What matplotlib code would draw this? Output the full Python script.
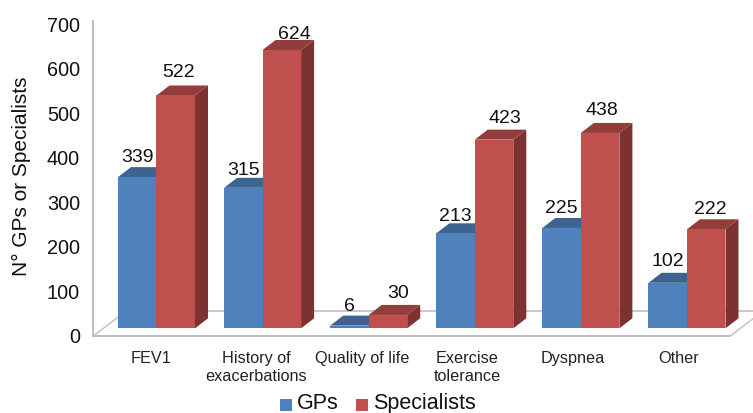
import matplotlib
matplotlib.use('Agg')
import matplotlib.pyplot as plt
from matplotlib.patches import Polygon, Rectangle

plt.rcParams['font.family'] = ['Liberation Sans', 'DejaVu Sans']

categories = ['FEV1', 'History of\nexacerbations', 'Quality of life',
              'Exercise\ntolerance', 'Dyspnea', 'Other']
gps = [339, 315, 6, 213, 225, 102]
specialists = [522, 624, 30, 423, 438, 222]
y_ticks = [0, 100, 200, 300, 400, 500, 600, 700]

# value labels were placed by hand in the original, so they get hand offsets (pixels)
gps_label_gap = [21, 18, 20, 18, 20, 22]
spec_label_gap = [24, 16, 22, 22, 23, 21]
spec_label_shift = [3, 13, 10, 11, 2, 4]

WIDTH, HEIGHT = 753, 414
PX_PER_UNIT = 0.446
BASE_PX = 329.3
FIRST_PX = 118.0
GROUP_PX = 106.1
BAR_PX = 38.5
DEPTH_X = 13.0
DEPTH_Y = 10.0

fig = plt.figure(figsize=(WIDTH / 100, HEIGHT / 100), dpi=100)
ax = fig.add_axes([0, 0, 1, 1])
# x in pixels, y in data units so bars come straight from the values
ax.set_xlim(0, WIDTH)
ax.set_ylim(-(HEIGHT - BASE_PX) / PX_PER_UNIT, BASE_PX / PX_PER_UNIT)
ax.axis('off')
uy = 1 / PX_PER_UNIT


def bar3d(x, value, front, top, side):
    h = value
    dx, dy = DEPTH_X, DEPTH_Y * uy
    ax.add_patch(Polygon([(x + BAR_PX, 0), (x + BAR_PX + dx, dy), (x + BAR_PX + dx, h + dy), (x + BAR_PX, h)],
                         facecolor=side, edgecolor='none', zorder=3))
    ax.add_patch(Polygon([(x, h), (x + dx, h + dy), (x + BAR_PX + dx, h + dy), (x + BAR_PX, h)],
                         facecolor=top, edgecolor='none', zorder=3))
    ax.add_patch(Rectangle((x, 0), BAR_PX, h, facecolor=front, edgecolor='none', zorder=4))


# floor and back wall lines
wall = '#bfbfbf'
front_y = -8.0 * uy
back_y = 17.3 * uy
ax.plot([93, 93], [front_y, 307 * uy], color=wall, lw=1.5, zorder=1)
ax.plot([93, 730], [front_y, front_y], color=wall, lw=1.5, zorder=1)
ax.plot([93, 126], [front_y, back_y], color=wall, lw=1, zorder=1)
ax.plot([126, 763], [back_y, back_y], color=wall, lw=1.2, zorder=1)
ax.plot([730, 763], [front_y, back_y], color=wall, lw=1, zorder=1)

for i, (g, s) in enumerate(zip(gps, specialists)):
    x = FIRST_PX + i * GROUP_PX
    bar3d(x, g, '#4f81bd', '#3d6491', '#33567f')
    bar3d(x + BAR_PX, s, '#c0504d', '#923d3b', '#7b3230')
    ax.text(x + BAR_PX / 2, g + gps_label_gap[i] * uy, str(g), fontsize=14, ha='center', va='center',
            color='#111111', zorder=5)
    ax.text(x + BAR_PX * 1.5 + spec_label_shift[i], s + spec_label_gap[i] * uy, str(s), fontsize=14,
            ha='center', va='center', color='#111111', zorder=5)
    ax.text(151 + i * 105.5, -21.5 * uy, categories[i], fontsize=11.7, ha='center', va='top', color='#222222',
            linespacing=1.25, zorder=5)

for t in y_ticks:
    ax.text(80, t * 0.996 - 8.2 * uy, str(t), fontsize=14.3, ha='right', va='center', color='#111111')

ax.text(21, 153 * uy, 'N° GPs or Specialists', rotation=90, fontsize=15, ha='center', va='center', color='#111111')

# kept just inside the bottom edge so the descenders are not lost
legend_y = -(412 - BASE_PX) * uy
ax.add_patch(Rectangle((280, legend_y), 12, 12 * uy, facecolor='#4f81bd', edgecolor='none'))
ax.add_patch(Rectangle((356, legend_y), 12, 12 * uy, facecolor='#c0504d', edgecolor='none'))
ax.text(297, -(409.3 - BASE_PX) * uy, 'GPs', fontsize=15.5, ha='left', va='baseline', color='#111111')
ax.text(373, -(409.3 - BASE_PX) * uy, 'Specialists', fontsize=15.5, ha='left', va='baseline', color='#111111')

fig.savefig('out.png', dpi=100)
